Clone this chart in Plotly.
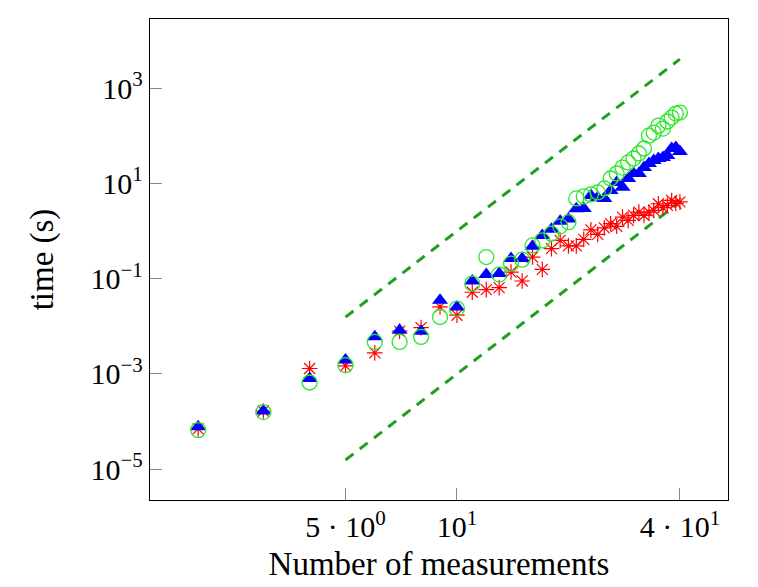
import plotly.graph_objects as go

# Number of measurements
n_meas = list(range(2, 41))

# time (s) -- red stars
t_star = [7.0e-5, 1.66e-4, 1.3e-3, 1.48e-3, 2.77e-3, 7.9e-3, 9.4e-3, 0.0255, 0.0171, 0.0519,
          0.059, 0.065, 0.138, 0.0895, 0.285, 0.157, 0.428, 0.638, 0.49, 0.49,
          0.67, 1.06, 0.853, 1.17, 1.43, 1.26, 1.96, 1.68, 2.13, 2.5,
          2.13, 2.5, 2.72, 3.75, 3.1, 3.46, 4.4, 3.81, 4.1]

# time (s) -- blue triangles
t_tri = [7.8e-5, 1.66e-4, 8.05e-4, 1.95e-3, 6.0e-3, 8.3e-3, 7.9e-3, 0.0352, 0.0255, 0.0895,
         0.122, 0.128, 0.264, 0.264, 0.478, 0.81, 1.09, 1.6, 1.8, 2.95,
         2.99, 5.6, 5.08, 4.85, 7.13, 10.5, 8.36, 12.7, 16.2, 16.2,
         21.6, 26.3, 30.3, 33.4, 35.1, 38.6, 54.2, 56.9, 46.9]

# time (s) -- green circles
t_circ = [6.6e-5, 1.58e-4, 6.6e-4, 1.53e-3, 4.7e-3, 4.7e-3, 6.0e-3, 0.0157, 0.0236, 0.0789,
          0.285, 0.122, 0.207, 0.251, 0.50, 0.638, 0.88, 1.26, 1.54, 4.85,
          5.34, 5.88, 6.47, 7.85, 12.7, 16.2, 21.6, 27.6, 33.4, 42.6,
          54.2, 101, 117, 164, 142, 200, 242, 294, 308]

# reference slopes (dashed)
ref_x = [5, 40]
ref_upper = [0.0156, 4096]
ref_lower = [1.56e-5, 4.1]

x_tickvals = [5, 10, 40]
x_ticktext = ["5 \u00b7 10<sup>0</sup>", "10<sup>1</sup>", "4 \u00b7 10<sup>1</sup>"]
y_tickvals = [1e-5, 1e-3, 1e-1, 1e1, 1e3]
y_ticktext = ["10<sup>\u22125</sup>", "10<sup>\u22123</sup>", "10<sup>\u22121</sup>",
              "10<sup>1</sup>", "10<sup>3</sup>"]

dash_color = "#1ea01e"

fig = go.Figure()
fig.add_trace(go.Scatter(x=ref_x, y=ref_upper, mode="lines",
                         line=dict(color=dash_color, width=3, dash="10px,8px"),
                         showlegend=False, hoverinfo="skip"))
fig.add_trace(go.Scatter(x=ref_x, y=ref_lower, mode="lines",
                         line=dict(color=dash_color, width=3, dash="10px,8px"),
                         showlegend=False, hoverinfo="skip"))
fig.add_trace(go.Scatter(x=n_meas, y=t_star, mode="markers",
                         marker=dict(symbol="asterisk-open", size=13, color="red",
                                     line=dict(color="red", width=1.2)),
                         showlegend=False))
fig.add_trace(go.Scatter(x=n_meas, y=t_tri, mode="markers",
                         marker=dict(symbol="triangle-up", size=14, color="blue",
                                     line=dict(width=0)),
                         showlegend=False))
fig.add_trace(go.Scatter(x=n_meas, y=t_circ, mode="markers",
                         marker=dict(symbol="circle-open", size=15, color="#2ee62e",
                                     line=dict(color="#2ee62e", width=1.3)),
                         showlegend=False))

font_family = "Liberation Serif"
fig.update_layout(
    width=758, height=587,
    margin=dict(l=142, r=38, t=11, b=95),
    paper_bgcolor="white", plot_bgcolor="white",
    font=dict(family=font_family, color="black", size=30),
    xaxis=dict(type="log", range=[0.171, 1.732], tickvals=x_tickvals, ticktext=x_ticktext,
               ticks="inside", ticklen=12, tickcolor="#888888", tickwidth=1,
               showline=True, linecolor="black", linewidth=1.3, mirror=True,
               showgrid=False, zeroline=False, tickfont=dict(size=30),
               title=dict(text="Number of measurements", font=dict(size=33), standoff=9)),
    yaxis=dict(type="log", range=[-5.648, 4.454], tickvals=y_tickvals, ticktext=y_ticktext,
               ticks="inside", ticklen=12, tickcolor="#888888", tickwidth=1,
               showline=True, linecolor="black", linewidth=1.3, mirror=True,
               showgrid=False, zeroline=False, tickfont=dict(size=30),
               title=dict(text="time (s)", font=dict(size=33), standoff=26)),
)

fig.write_html("out.html")
